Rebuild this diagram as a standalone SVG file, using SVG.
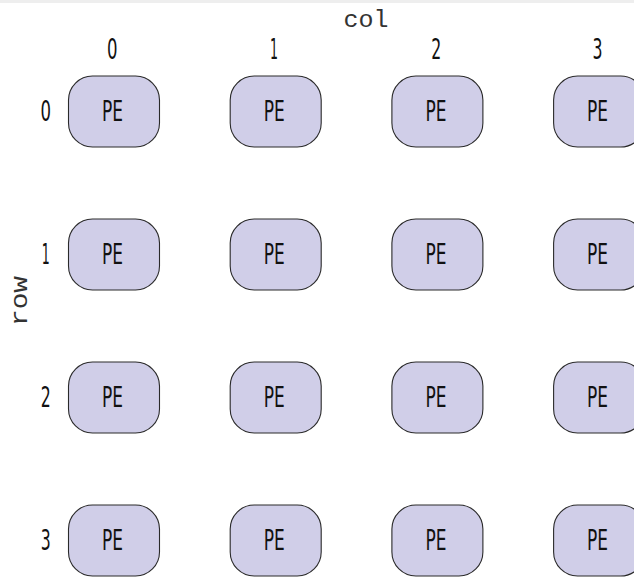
<svg xmlns="http://www.w3.org/2000/svg" width="634" height="577" viewBox="0 0 634 577">
<style>
.pe{fill:#d0cee8;stroke:#2a2a2a;stroke-width:1.1}
.t{font-family:"Liberation Sans Narrow","DejaVu Sans Condensed",sans-serif;font-size:28px;fill:#111;text-anchor:middle}
.m{font-family:"Liberation Mono","DejaVu Sans Mono",monospace;font-size:24px;fill:#333;text-anchor:middle}
</style>
<rect x="0" y="0" width="634" height="577" fill="#ffffff"/>
<rect x="0" y="0" width="634" height="3" fill="#eeeeee"/>
<text class="m" x="366" y="27" textLength="45" lengthAdjust="spacingAndGlyphs">col</text>
<text class="m" transform="translate(27,301) rotate(-90)" x="0" y="0" textLength="50" lengthAdjust="spacingAndGlyphs">row</text>
<g id="col-labels">
<text class="t" x="112.2" y="58.5" textLength="10.5" lengthAdjust="spacingAndGlyphs">0</text>
<text class="t" x="274" y="58.5" textLength="8" lengthAdjust="spacingAndGlyphs">1</text>
<text class="t" x="436.3" y="58.5" textLength="10" lengthAdjust="spacingAndGlyphs">2</text>
<text class="t" x="597.5" y="58.5" textLength="10" lengthAdjust="spacingAndGlyphs">3</text>
</g>
<g id="row-labels">
<text class="t" x="45.7" y="120.5" textLength="10.5" lengthAdjust="spacingAndGlyphs">0</text>
<text class="t" x="45.7" y="263.5" textLength="8" lengthAdjust="spacingAndGlyphs">1</text>
<text class="t" x="45.7" y="406.5" textLength="10" lengthAdjust="spacingAndGlyphs">2</text>
<text class="t" x="45.7" y="549.5" textLength="10" lengthAdjust="spacingAndGlyphs">3</text>
</g>
<g id="connectors"></g>
<g id="pe-0-0"><rect class="pe" x="68.5" y="76" width="91" height="71" rx="24"/><text class="t" x="112.5" y="120.5" textLength="21" lengthAdjust="spacingAndGlyphs">PE</text></g>
<g id="pe-0-1"><rect class="pe" x="230.2" y="76" width="91" height="71" rx="24"/><text class="t" x="274.2" y="120.5" textLength="21" lengthAdjust="spacingAndGlyphs">PE</text></g>
<g id="pe-0-2"><rect class="pe" x="391.9" y="76" width="91" height="71" rx="24"/><text class="t" x="435.9" y="120.5" textLength="21" lengthAdjust="spacingAndGlyphs">PE</text></g>
<g id="pe-0-3"><rect class="pe" x="553.6" y="76" width="91" height="71" rx="24"/><text class="t" x="597.6" y="120.5" textLength="21" lengthAdjust="spacingAndGlyphs">PE</text></g>
<g id="pe-1-0"><rect class="pe" x="68.5" y="219" width="91" height="71" rx="24"/><text class="t" x="112.5" y="263.5" textLength="21" lengthAdjust="spacingAndGlyphs">PE</text></g>
<g id="pe-1-1"><rect class="pe" x="230.2" y="219" width="91" height="71" rx="24"/><text class="t" x="274.2" y="263.5" textLength="21" lengthAdjust="spacingAndGlyphs">PE</text></g>
<g id="pe-1-2"><rect class="pe" x="391.9" y="219" width="91" height="71" rx="24"/><text class="t" x="435.9" y="263.5" textLength="21" lengthAdjust="spacingAndGlyphs">PE</text></g>
<g id="pe-1-3"><rect class="pe" x="553.6" y="219" width="91" height="71" rx="24"/><text class="t" x="597.6" y="263.5" textLength="21" lengthAdjust="spacingAndGlyphs">PE</text></g>
<g id="pe-2-0"><rect class="pe" x="68.5" y="362" width="91" height="71" rx="24"/><text class="t" x="112.5" y="406.5" textLength="21" lengthAdjust="spacingAndGlyphs">PE</text></g>
<g id="pe-2-1"><rect class="pe" x="230.2" y="362" width="91" height="71" rx="24"/><text class="t" x="274.2" y="406.5" textLength="21" lengthAdjust="spacingAndGlyphs">PE</text></g>
<g id="pe-2-2"><rect class="pe" x="391.9" y="362" width="91" height="71" rx="24"/><text class="t" x="435.9" y="406.5" textLength="21" lengthAdjust="spacingAndGlyphs">PE</text></g>
<g id="pe-2-3"><rect class="pe" x="553.6" y="362" width="91" height="71" rx="24"/><text class="t" x="597.6" y="406.5" textLength="21" lengthAdjust="spacingAndGlyphs">PE</text></g>
<g id="pe-3-0"><rect class="pe" x="68.5" y="505" width="91" height="71" rx="24"/><text class="t" x="112.5" y="549.5" textLength="21" lengthAdjust="spacingAndGlyphs">PE</text></g>
<g id="pe-3-1"><rect class="pe" x="230.2" y="505" width="91" height="71" rx="24"/><text class="t" x="274.2" y="549.5" textLength="21" lengthAdjust="spacingAndGlyphs">PE</text></g>
<g id="pe-3-2"><rect class="pe" x="391.9" y="505" width="91" height="71" rx="24"/><text class="t" x="435.9" y="549.5" textLength="21" lengthAdjust="spacingAndGlyphs">PE</text></g>
<g id="pe-3-3"><rect class="pe" x="553.6" y="505" width="91" height="71" rx="24"/><text class="t" x="597.6" y="549.5" textLength="21" lengthAdjust="spacingAndGlyphs">PE</text></g>
</svg>
